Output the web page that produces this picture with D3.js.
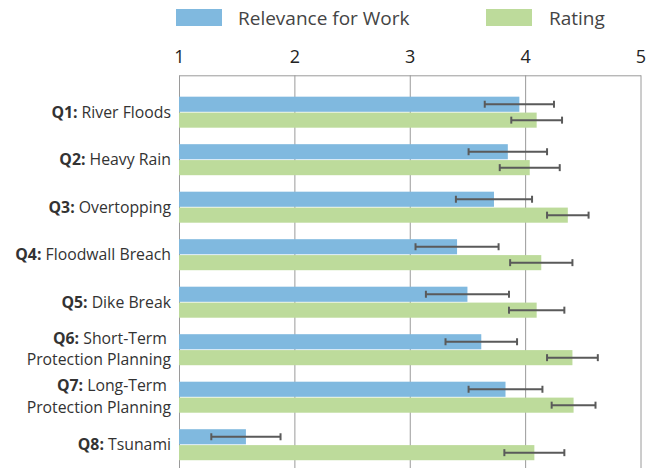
<!DOCTYPE html>
<html>
<head>
<meta charset="utf-8">
<script src="https://cdn.jsdelivr.net/npm/d3@7"></script>
<style>
  html, body { margin: 0; padding: 0; background: #fff; }
  svg { display: block; font-family: "Open Sans", "Noto Sans", sans-serif; }
</style>
</head>
<body>
<svg id="chart" width="659" height="468"></svg>
<script>
// Survey questions: bold prefix and the label text (split across lines where needed)
const questionIds = ["Q1:", "Q2:", "Q3:", "Q4:", "Q5:", "Q6:", "Q7:", "Q8:"];
const questionLines = [
  ["River Floods"],
  ["Heavy Rain"],
  ["Overtopping"],
  ["Floodwall Breach"],
  ["Dike Break"],
  ["Short-Term ", "Protection Planning"],
  ["Long-Term ", "Protection Planning"],
  ["Tsunami"]
];

// Mean scores and error half-widths
const relevance    = [3.95, 3.85, 3.73, 3.41, 3.50, 3.62, 3.83, 1.58];
const relevanceErr = [0.30, 0.34, 0.33, 0.36, 0.36, 0.31, 0.32, 0.30];
const rating       = [4.10, 4.04, 4.37, 4.14, 4.10, 4.41, 4.42, 4.08];
const ratingErr    = [0.22, 0.26, 0.18, 0.27, 0.24, 0.22, 0.19, 0.26];

const seriesNames  = ["Relevance for Work", "Rating"];
const seriesColors = ["#80b9df", "#bddb9b"];
const tickValues   = [1, 2, 3, 4, 5];

const svg = d3.select("#chart");

const x = d3.scaleLinear().domain([1, 5]).range([179, 640.5]);
const y = d3.scaleBand()
  .domain(questionIds)
  .range([75.3, 481.6])
  .paddingInner(0.347)
  .paddingOuter(0.45);
const sub = d3.scaleBand()
  .domain(seriesNames)
  .range([0, y.bandwidth()])
  .paddingInner(0.05);

// Top axis with vertical gridlines running down the plot
const axis = d3.axisTop(x)
  .tickValues(tickValues)
  .tickFormat(d3.format("d"))
  .tickSizeInner(-(481.6 - 75.3))
  .tickSizeOuter(0)
  .tickPadding(12);

const gAxis = svg.append("g")
  .attr("transform", "translate(0,75.3)")
  .call(axis);
gAxis.select(".domain").attr("stroke", "#9a9a9a").attr("stroke-width", 1);
gAxis.selectAll(".tick line").attr("stroke", "#9a9a9a").attr("stroke-width", 1);
gAxis.selectAll(".tick text")
  .attr("fill", "#222")
  .style("font-size", "18px")
  .style("font-family", "'Open Sans', sans-serif");

const rows = questionIds.map((q, i) => ({
  q, i,
  vals: [
    { s: seriesNames[0], v: relevance[i], e: relevanceErr[i], c: seriesColors[0] },
    { s: seriesNames[1], v: rating[i],    e: ratingErr[i],    c: seriesColors[1] }
  ]
}));

const groups = svg.append("g")
  .selectAll("g")
  .data(rows)
  .join("g")
  .attr("transform", d => `translate(0,${y(d.q)})`);

groups.selectAll("rect")
  .data(d => d.vals)
  .join("rect")
  .attr("x", x(1))
  .attr("y", d => sub(d.s))
  .attr("width", d => x(d.v) - x(1))
  .attr("height", sub.bandwidth())
  .attr("fill", d => d.c);

// Error bars
const eb = groups.selectAll("g.err")
  .data(d => d.vals)
  .join("g")
  .attr("class", "err")
  .attr("stroke", "#5a5a5a")
  .attr("stroke-width", 2);
eb.append("line")
  .attr("x1", d => x(d.v - d.e))
  .attr("x2", d => x(d.v + d.e))
  .attr("y1", d => sub(d.s) + sub.bandwidth() / 2)
  .attr("y2", d => sub(d.s) + sub.bandwidth() / 2);
[-1, 1].forEach(sgn => {
  eb.append("line")
    .attr("x1", d => x(d.v + sgn * d.e))
    .attr("x2", d => x(d.v + sgn * d.e))
    .attr("y1", d => sub(d.s) + sub.bandwidth() / 2 - 3.5)
    .attr("y2", d => sub(d.s) + sub.bandwidth() / 2 + 3.5);
});

// Category labels
const labelX = 171;
const lineGap = 21.7;
rows.forEach(r => {
  const lines = questionLines[r.i];
  const cy = y(r.q) + y.bandwidth() / 2;
  const first = cy + 5.7 - (lines.length - 1) * lineGap / 2 - (lines.length > 1 ? 1 : 0);
  const t = svg.append("text")
    .attr("text-anchor", "end")
    .attr("fill", "#333")
    .style("font-size", "15.8px");
  lines.forEach((ln, k) => {
    const tl = t.append("tspan")
      .attr("x", labelX)
      .attr("y", first + k * lineGap)
      .attr("xml:space", "preserve");
    if (k === 0) {
      tl.append("tspan").attr("font-weight", "bold").text(r.q + " ");
    }
    tl.append("tspan").text(ln);
  });
});

// Legend
const legend = svg.append("g");
const legendPos = [{ rx: 176, tx: 238 }, { rx: 486, tx: 549 }];
seriesNames.forEach((name, i) => {
  legend.append("rect")
    .attr("x", legendPos[i].rx).attr("y", 9)
    .attr("width", 46).attr("height", 17)
    .attr("fill", seriesColors[i]);
  legend.append("text")
    .attr("x", legendPos[i].tx).attr("y", 25)
    .attr("fill", "#444")
    .style("font-size", "19px")
    .text(name);
});
</script>
</body>
</html>
